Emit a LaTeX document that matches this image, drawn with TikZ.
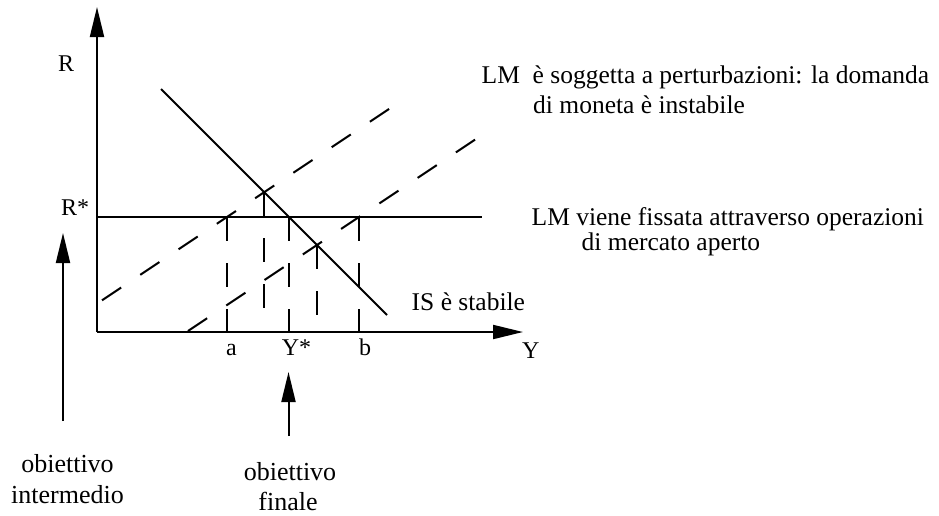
\documentclass[tikz,border=0pt]{standalone}
\usepackage{fontspec}
\setmainfont{Liberation Serif}
\usetikzlibrary{arrows.meta}
\begin{document}
\begin{tikzpicture}[x=1pt,y=-1pt,
  ln/.style={line width=2pt},
  dsh/.style={line width=2pt, dash pattern=on 23pt off 23pt},
  vdsh/.style={line width=2pt, dash pattern=on 24pt off 22pt},
  axarrow/.style={line width=2pt,-{Triangle[length=30pt,width=14pt]}},
  txt/.style={font=\fontsize{25.5}{30}\selectfont, inner sep=0pt, anchor=base west},
  lbl/.style={font=\fontsize{24}{28}\selectfont, inner sep=0pt, anchor=base west},
  clbl/.style={font=\fontsize{24}{28}\selectfont, inner sep=0pt, anchor=base},
  ctr/.style={font=\fontsize{26}{30}\selectfont, inner sep=0pt, anchor=base}]
\useasboundingbox (0,0) rectangle (939,515);
% axes
\coordinate (O) at (97,332);
\coordinate (ytop) at (97,7);
\coordinate (xend) at (523,332);
\draw[axarrow] (O) -- (ytop);
\draw[axarrow] (O) -- (xend);
% R* line
\coordinate (Rs0) at (97,217);
\coordinate (Rs1) at (482,217);
\draw[ln] (Rs0) -- (Rs1);
% IS
\coordinate (IS0) at (161,89);
\coordinate (IS1) at (387,315);
\draw[ln] (IS0) -- (IS1);
% LM dashed
\coordinate (LMu0) at (102,300.3);
\coordinate (LMu1) at (393,106.3);
\coordinate (LMl0) at (188,331);
\coordinate (LMl1) at (479,137);
\draw[dsh] (LMu0) -- (LMu1);
\draw[dsh] (LMl0) -- (LMl1);
% vertical dashed
\coordinate (pa) at (227,217);   \coordinate (qa) at (227,332);
\coordinate (pu) at (264.2,192.2); \coordinate (qu) at (264.2,312);
\coordinate (ps) at (289,217);   \coordinate (qs) at (289,332);
\coordinate (pl) at (317,245);   \coordinate (ql) at (317,317);
\coordinate (pb) at (359,217);   \coordinate (qb) at (359,332);
\draw[vdsh] (pa) -- (qa);
\draw[vdsh] (pu) -- (qu);
\draw[vdsh] (ps) -- (qs);
\draw[vdsh] (pl) -- (ql);
\draw[vdsh] (pb) -- (qb);
% labels
\node[lbl] (R) at (58,71) {R};
\node[lbl] (Rstar) at (61,215) {R*};
\node[lbl] (Y) at (522,358) {Y};
\node[clbl] (a) at (231.5,355) {a};
\node[clbl] (Ystar) at (296.5,355) {Y*};
\node[clbl] (b) at (365,355) {b};
\node[txt] (IS) at (411.5,310) {IS è stabile};
\node[txt] (LMa1) at (481.5,83.5) {LM\ \ è soggetta a perturbazioni: la domanda};
\node[txt] (LMa2) at (533,113) {di moneta è instabile};
\node[txt] (LMb1) at (531.5,225.5) {LM viene fissata attraverso operazioni};
\node[txt] (LMb2) at (581.5,250.5) {di mercato aperto};
% goal arrows
\coordinate (gi0) at (63,421);
\coordinate (gi1) at (63,233);
\coordinate (gf0) at (288.5,436);
\coordinate (gf1) at (288.5,372);
\draw[axarrow] (gi0) -- (gi1);
\draw[axarrow] (gf0) -- (gf1);
\node[ctr] (oi1) at (67.5,472.5) {obiettivo};
\node[ctr] (oi2) at (67.5,503.5) {intermedio};
\node[ctr] (of1) at (290,480.5) {obiettivo};
\node[ctr] (of2) at (288,510) {finale};
\end{tikzpicture}
\end{document}
